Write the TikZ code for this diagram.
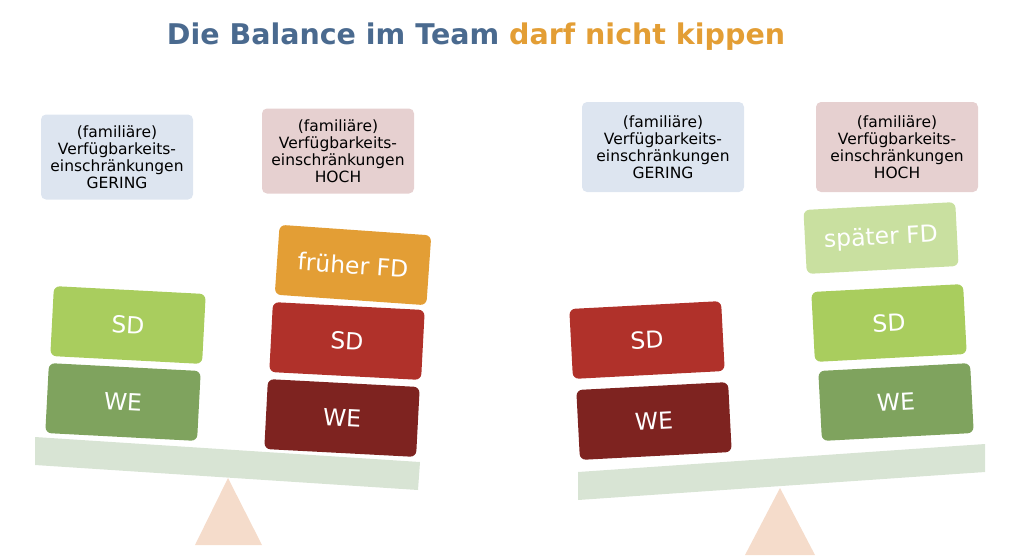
\documentclass[tikz,border=0pt]{standalone}
\usepackage{fontspec}
\setmainfont{DejaVu Sans}
\usetikzlibrary{positioning}
\definecolor{titleblue}{HTML}{4A6A8F}
\definecolor{titleorange}{HTML}{E39E35}
\definecolor{wegreen}{HTML}{7FA35E}
\definecolor{sdgreen}{HTML}{A9CD5E}
\definecolor{fdgreen}{HTML}{C9E0A0}
\definecolor{wered}{HTML}{7E2320}
\definecolor{sdred}{HTML}{B0312A}
\definecolor{infoblue}{HTML}{DDE5F0}
\definecolor{infopink}{HTML}{E6D0D0}
\definecolor{beam}{HTML}{D8E4D4}
\definecolor{fulcrum}{HTML}{F5DCCB}
\begin{document}
\begin{tikzpicture}[x=1pt, y=-1pt,
        block/.style={rectangle, rounded corners=6pt, minimum width=152pt,
                      minimum height=70pt, text=white, font=\fontsize{23.5}{28}\selectfont},
        info/.style={rectangle, rounded corners=5pt, align=center,
                     font=\fontsize{15.5}{17}\selectfont},
    ]
        \useasboundingbox (0,0) rectangle (1024,555);
        \node[font=\bfseries\fontsize{28.5}{32}\selectfont] (title) at (476,37)
            {\textcolor{titleblue}{Die Balance im Team} \textcolor{titleorange}{darf nicht kippen}};

        % left scale
        \fill[fulcrum] (228,478) -- (262,545) -- (195,545) -- cycle;
        \fill[beam] (35,437) -- (420,462) -- (418,490) -- (35,465) -- cycle;
        \node[info, fill=infoblue, minimum width=152pt, minimum height=85pt] (leftlow) at (117,157)
            {(familiäre)\\Verfügbarkeits-\\einschränkungen\\GERING};
        \node[info, fill=infopink, minimum width=152pt, minimum height=85pt] (lefthigh) at (338,151)
            {(familiäre)\\Verfügbarkeits-\\einschränkungen\\HOCH};
        \node[block, fill=wegreen, rotate=-3] (lwe1) at (123,402) {WE};
        \node[block, fill=sdgreen, rotate=-3] (lsd1) at (128,325) {SD};
        \node[block, fill=wered, rotate=-3] (lwe2) at (342,418) {WE};
        \node[block, fill=sdred, rotate=-3] (lsd2) at (347,341) {SD};
        \node[block, fill=titleorange, rotate=-4] (lfd2) at (353,265) {früher FD};

        % right scale
        \fill[fulcrum] (780,488) -- (815,555) -- (745,555) -- cycle;
        \fill[beam] (578,472) -- (985,444) -- (985,472) -- (578,500) -- cycle;
        \node[info, fill=infoblue, minimum width=162pt, minimum height=90pt] (rightlow) at (663,147)
            {(familiäre)\\Verfügbarkeits-\\einschränkungen\\GERING};
        \node[info, fill=infopink, minimum width=162pt, minimum height=90pt] (righthigh) at (897,147)
            {(familiäre)\\Verfügbarkeits-\\einschränkungen\\HOCH};
        \node[block, fill=wered, rotate=3] (rwe1) at (654,421) {WE};
        \node[block, fill=sdred, rotate=3] (rsd1) at (647,340) {SD};
        \node[block, fill=wegreen, rotate=3] (rwe2) at (896,402) {WE};
        \node[block, fill=sdgreen, rotate=3] (rsd2) at (889,323) {SD};
        \node[block, fill=fdgreen, rotate=3, minimum height=64pt] (rfd2) at (881,238) {später FD};
    \end{tikzpicture}
\end{document}
